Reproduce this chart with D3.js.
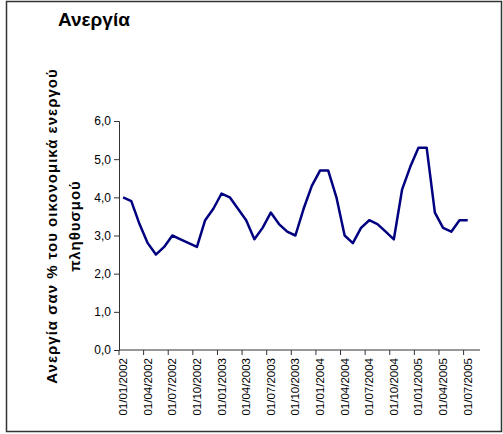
<!DOCTYPE html>
<html><head><meta charset="utf-8">
<script src="https://cdn.jsdelivr.net/npm/d3@7"></script>
<style>body{margin:0;background:#fff}svg{display:block}</style>
</head><body>
<script>
const months = [];
for (let y = 2002; y <= 2005; y++) for (let m = 1; m <= 12; m++) { if (y === 2005 && m > 8) break; months.push("01/" + String(m).padStart(2, "0") + "/" + y); }
const values = [4.0,3.9,3.3,2.8,2.5,2.7,3.0,2.9,2.8,2.7,3.4,3.7,
                4.1,4.0,3.7,3.4,2.9,3.2,3.6,3.3,3.1,3.0,3.7,4.3,
                4.7,4.7,4.0,3.0,2.8,3.2,3.4,3.3,3.1,2.9,4.2,4.8,
                5.3,5.3,3.6,3.2,3.1,3.4,3.4];
const yTicks = [0,1,2,3,4,5,6];
const title = "Ανεργία";
const yTitle = ["Ανεργία σαν % του οικονομικά ενεργού", "πληθυσμού"];

const W = 503, H = 434;
const svg = d3.select("body").append("svg").attr("width", W).attr("height", H);
svg.append("rect").attr("x", 6.5).attr("y", 1.5).attr("width", 495).attr("height", 430)
  .attr("fill", "#fff").attr("stroke", "#333").attr("stroke-width", 1.5);

const x = d3.scaleBand().domain(months).range([119, 480]).padding(0);
const y = d3.scaleLinear().domain([0, 6]).range([350, 121]);

const font = "'Liberation Sans', Arial, sans-serif";
// y axis
const ya = svg.append("g").attr("transform", "translate(119,0)")
  .call(d3.axisLeft(y).tickValues(yTicks).tickSize(5).tickPadding(3).tickFormat(d => d3.format(".1f")(d).replace(".", ",")));
ya.selectAll("text").attr("font-family", font).attr("font-size", 12).attr("fill", "#000");
ya.selectAll("line,path").attr("stroke", "#333");

// x axis
const tickMonths = months.filter((d, i) => i % 3 === 0);
const xa = svg.append("g").attr("transform", "translate(0,350)");
xa.append("line").attr("x1", 119).attr("x2", 480).attr("y1", 0).attr("y2", 0).attr("stroke", "#333");
xa.selectAll("line.t").data(tickMonths).enter().append("line").attr("class", "t")
  .attr("x1", d => x(d)).attr("x2", d => x(d)).attr("y1", 0).attr("y2", 5).attr("stroke", "#333");
xa.selectAll("text").data(tickMonths.filter(d => months.indexOf(d) <= 42)).enter().append("text")
  .attr("transform", d => `translate(${x(d) + x.bandwidth() / 2 + 4},8) rotate(-90)`)
  .attr("text-anchor", "end").attr("font-family", font).attr("font-size", 11.5).text(d => d);

// line
const line = d3.line().x((d, i) => x(months[i]) + x.bandwidth() / 2).y(d => y(d));
svg.append("path").datum(values).attr("d", line).attr("fill", "none")
  .attr("stroke", "#000080").attr("stroke-width", 2.5).attr("stroke-linejoin", "round");

// titles
svg.append("text").attr("x", 58).attr("y", 26).attr("font-family", font).attr("font-weight", "bold")
  .attr("font-size", 19).text(title);
yTitle.forEach((t, i) => {
  svg.append("text").attr("transform", `translate(${57 + i * 23},226) rotate(-90)`)
    .attr("text-anchor", "middle").attr("font-family", font).attr("font-weight", "bold")
    .attr("font-size", 15).attr("letter-spacing", 1).text(t);
});
</script>
</body></html>
